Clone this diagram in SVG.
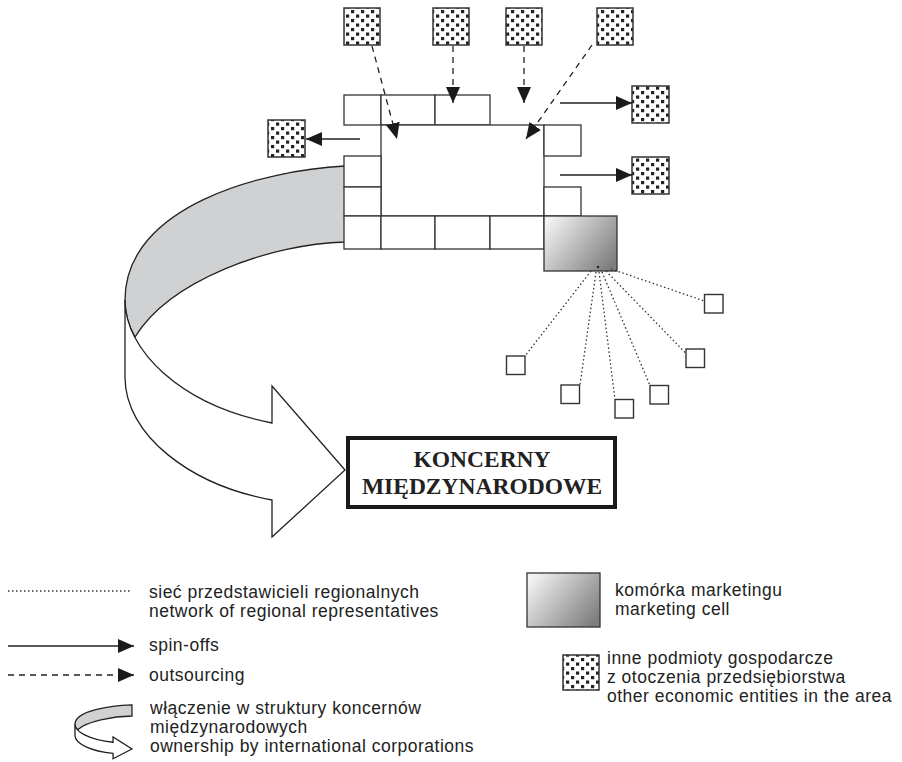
<svg xmlns="http://www.w3.org/2000/svg" xmlns:xlink="http://www.w3.org/1999/xlink" width="902" height="762" viewBox="0 0 902 762">
<style>
.cell{fill:#fff;stroke:#333;stroke-width:1.3}
.ent{fill:url(#dots);stroke:#333;stroke-width:1.5}
.rep{fill:#fff;stroke:#333;stroke-width:1.4}
.dot{fill:none;stroke:#333;stroke-width:1.3;stroke-dasharray:1.5 2.5}
.dash{fill:none;stroke:#222;stroke-width:1.3;stroke-dasharray:6 5}
.solid{fill:none;stroke:#222;stroke-width:1.4}
.band{stroke:#222;stroke-width:1.3}
.lg{font-family:"Liberation Sans",Arial,sans-serif;font-size:17.5px;letter-spacing:0.5px;fill:#222}
.title{font-family:"Liberation Serif","Times New Roman",serif;font-size:23.5px;font-weight:bold;fill:#222;text-anchor:middle}
</style>
<defs>
<pattern id="dots" patternUnits="userSpaceOnUse" x="0" y="0" width="10" height="9">
<rect width="10" height="9" fill="#fff"/>
<rect x="1" y="1" width="3.2" height="3.2" fill="#222"/>
<rect x="6" y="5.5" width="3.2" height="3.2" fill="#222"/>
</pattern>
<linearGradient id="mk" x1="0" y1="0.2" x2="1" y2="0.8">
<stop offset="0" stop-color="#f2f2f2"/>
<stop offset="1" stop-color="#7d7d7f"/>
</linearGradient>
<marker id="ah" viewBox="0 0 16 14" refX="16" refY="7" markerWidth="16" markerHeight="14" markerUnits="userSpaceOnUse" orient="auto">
<path d="M0,0 L16,7 L0,14 Z" fill="#1a1a1a"/>
</marker>
<g id="bandShape">
<path class="band" fill="#d0d1d3" vector-effect="non-scaling-stroke" d="M345,166 C265,170 125,205 125,300 C125,312 128,325 135,337 C170,280 270,244 345,242 Z"/>
<path class="band" fill="#fff" vector-effect="non-scaling-stroke" d="M125,300 C125,350 180,405 272,423 L272,386 L345,470 L272,537 L272,500 C190,485 125,435 125,377 Z"/>
</g>
</defs>

<g id="ownership-arrow">
<use xlink:href="#bandShape"/>
</g>

<g id="firm">
<rect class="cell" x="344" y="95" width="37" height="30"/>
<rect class="cell" x="381" y="95" width="54" height="30"/>
<rect class="cell" x="435" y="95" width="55" height="30"/>
<rect class="cell" x="381" y="125" width="163" height="91"/>
<rect class="cell" x="544" y="125" width="37" height="31"/>
<rect class="cell" x="544" y="187" width="37" height="29"/>
<rect class="cell" x="344" y="156" width="37" height="31"/>
<rect class="cell" x="344" y="187" width="37" height="29"/>
<rect class="cell" x="344" y="216" width="37" height="33"/>
<rect class="cell" x="381" y="216" width="54" height="33"/>
<rect class="cell" x="435" y="216" width="55" height="33"/>
<rect class="cell" x="490" y="216" width="54" height="33"/>
</g>

<g id="marketing-cell">
<rect x="544" y="216" width="73" height="55" fill="url(#mk)" stroke="#333" stroke-width="1.3"/>
<circle cx="598" cy="267" r="1.2" fill="#222"/>
</g>

<g id="entities">
<rect class="ent" x="344" y="8" width="36" height="37"/>
<rect class="ent" x="433" y="8" width="36" height="37"/>
<rect class="ent" x="506" y="8" width="36" height="37"/>
<rect class="ent" x="597" y="8" width="36" height="37"/>
<rect class="ent" x="632" y="86" width="37" height="37"/>
<rect class="ent" x="632" y="157" width="37" height="37"/>
<rect class="ent" x="268" y="120" width="37" height="37"/>
</g>

<g id="representatives">
<rect class="rep" x="704.5" y="294.5" width="18.5" height="18.5"/>
<rect class="rep" x="686" y="349" width="18.5" height="18.5"/>
<rect class="rep" x="506.5" y="356" width="18.5" height="18.5"/>
<rect class="rep" x="561" y="385" width="18.5" height="18.5"/>
<rect class="rep" x="650" y="385.5" width="18.5" height="18.5"/>
<rect class="rep" x="615" y="399.5" width="18.5" height="18.5"/>
</g>

<g id="concerns">
<rect x="348" y="438" width="267" height="69" fill="#fff" stroke="#1a1a1a" stroke-width="4"/>
<text class="title" x="482" y="467">KONCERNY</text>
<text class="title" x="482" y="494">MIĘDZYNARODOWE</text>
</g>

<g id="connectors">
<line class="dash" x1="372" y1="46" x2="397" y2="139" marker-end="url(#ah)"/>
<line class="dash" x1="453" y1="46" x2="453" y2="103" marker-end="url(#ah)"/>
<line class="dash" x1="524" y1="46" x2="524" y2="103" marker-end="url(#ah)"/>
<line class="dash" x1="592" y1="45" x2="526" y2="139" marker-end="url(#ah)"/>
<line class="solid" x1="560" y1="103" x2="632" y2="103" marker-end="url(#ah)"/>
<line class="solid" x1="560" y1="175" x2="632" y2="175" marker-end="url(#ah)"/>
<line class="solid" x1="360" y1="139" x2="306" y2="139" marker-end="url(#ah)"/>
<line class="dot" x1="591" y1="271" x2="525" y2="356"/>
<line class="dot" x1="596" y1="272" x2="580" y2="385"/>
<line class="dot" x1="599" y1="272" x2="615" y2="399.5"/>
<line class="dot" x1="602" y1="272" x2="650" y2="385.5"/>
<line class="dot" x1="606" y1="271" x2="686.5" y2="354"/>
<line class="dot" x1="611" y1="269" x2="704.5" y2="301"/>
</g>

<g id="legend">
<line class="dot" x1="8" y1="591" x2="132" y2="591"/>
<text class="lg" x="149" y="598">sieć przedstawicieli regionalnych</text>
<text class="lg" x="149" y="617">network of regional representatives</text>
<line class="solid" x1="8" y1="646" x2="134" y2="646" marker-end="url(#ah)"/>
<text class="lg" x="149" y="651">spin-offs</text>
<line class="dash" x1="8" y1="675" x2="134" y2="675" marker-end="url(#ah)"/>
<text class="lg" x="149" y="681">outsourcing</text>
<use xlink:href="#bandShape" transform="matrix(0.259 0 0 0.145 42.6 680.9)"/>
<text class="lg" x="150" y="714">włączenie w struktury koncernów</text>
<text class="lg" x="150" y="733">międzynarodowych</text>
<text class="lg" x="150" y="752">ownership by international corporations</text>
<rect x="527" y="573" width="73" height="54" fill="url(#mk)" stroke="#333" stroke-width="1.3"/>
<text class="lg" x="615" y="596">komórka marketingu</text>
<text class="lg" x="615" y="615">marketing cell</text>
<rect class="ent" x="563" y="655" width="36" height="35"/>
<text class="lg" x="607" y="664">inne podmioty gospodarcze</text>
<text class="lg" x="607" y="683">z otoczenia przedsiębiorstwa</text>
<text class="lg" x="607" y="702">other economic entities in the area</text>
</g>
</svg>
